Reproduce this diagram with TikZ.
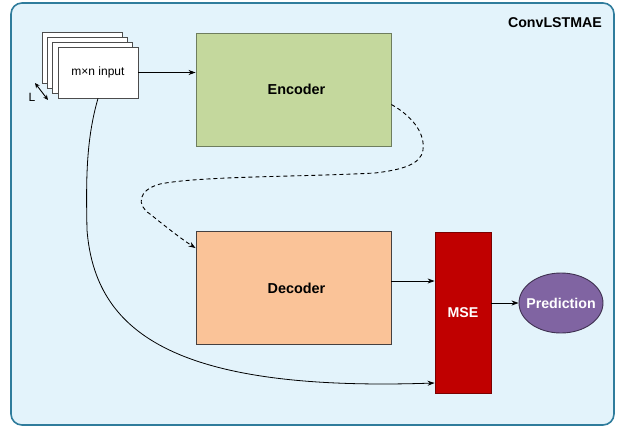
\documentclass[tikz,border=0pt]{standalone}
\usepackage{fontspec}
\setmainfont{Liberation Sans}
\usetikzlibrary{arrows.meta,shapes.geometric}
\definecolor{bgblue}{HTML}{E3F3FB}
\definecolor{frameblue}{HTML}{2F7C9C}
\definecolor{encfill}{HTML}{C4D89D}
\definecolor{encdraw}{HTML}{6E7D5E}
\definecolor{decfill}{HTML}{FAC398}
\definecolor{decdraw}{HTML}{454040}
\definecolor{msefill}{HTML}{C00000}
\definecolor{msedraw}{HTML}{7A0000}
\definecolor{predfill}{HTML}{8064A2}
\definecolor{preddraw}{HTML}{3F3151}
\tikzset{
  sheet/.style={draw=black!70, fill=white, line width=0.8pt, minimum width=80pt, minimum height=51pt, inner sep=0pt},
  blockbox/.style={line width=0.9pt, minimum width=195pt, minimum height=113pt, inner sep=0pt, font=\bfseries\fontsize{14.4}{16}\selectfont},
  conn/.style={line width=0.8pt, -{Stealth[length=7pt,width=5pt]}},
  dashconn/.style={line width=0.9pt, dash pattern=on 4pt off 3pt, -{Stealth[length=7pt,width=5pt]}},
  lbl/.style={font=\bfseries\fontsize{14.2}{16}\selectfont}
}
\begin{document}
\begin{tikzpicture}[x=1pt,y=-1pt]
\useasboundingbox (0,0) rectangle (625,429);
\fill[white] (0,0) rectangle (625,429);
\draw[frameblue, fill=bgblue, line width=1.6pt, rounded corners=11pt] (11,3) rectangle (614,425);
\node[lbl, anchor=center] (title) at (555,23) {ConvLSTMAE};
% input stack
\node[sheet] (s1) at (82.1,57.5) {};
\node[sheet] (s2) at (87.4,62.5) {};
\node[sheet] (s3) at (92.7,67.5) {};
\node[sheet, font=\fontsize{12}{14}\selectfont] (input) at (98,72.5) {m×n input};
\node[font=\fontsize{12}{14}\selectfont, inner sep=0pt] (L) at (32,97) {L};
\coordinate (la) at (35,83);
\coordinate (lb) at (48,100);
\draw[line width=0.9pt, {Stealth[length=5pt,width=4.5pt]}-{Stealth[length=5pt,width=4.5pt]}] (la) -- (lb);
% blocks
\node[blockbox, draw=encdraw, fill=encfill] (enc) at (293.5,89.5) {\hspace*{6pt}Encoder};
\node[blockbox, draw=decdraw, fill=decfill] (dec) at (293.5,288) {\hspace*{6pt}Decoder};
\node[draw=msedraw, fill=msefill, line width=0.8pt, minimum width=56pt, minimum height=161pt, inner sep=0pt, text=white, lbl] (mse) at (463,312.5) {MSE};
\node[ellipse, draw=preddraw, fill=predfill, line width=0.9pt, minimum width=84pt, minimum height=60pt, inner sep=0pt, text=white, lbl] (pred) at (561,303) {\makebox[0pt]{Prediction}};
% connectors
\draw[conn] (input.east) -- (input.east -| enc.west);
\draw[conn] ([yshift=7pt]dec.east) -- ([yshift=7pt]dec.east -| mse.west);
\draw[conn] (pred.west -| mse.east) -- (pred.west);
\draw[dashconn] ([yshift=-15pt]enc.east) .. controls (415,118) and (425,135) .. (423,150)
  .. controls (421,165) and (400,170) .. (375,173)
  .. controls (300,177) and (200,176) .. (160,184)
  .. controls (138,190) and (136,205) .. (150,214)
  .. controls (165,226) and (180,238) .. ([yshift=-17pt]dec.north west);
\draw[conn] (input.south) .. controls (86,140) and (86,180) .. (87,230)
  .. controls (95,330) and (170,392) .. ([yshift=-70.5pt]mse.west);
\end{tikzpicture}
\end{document}
